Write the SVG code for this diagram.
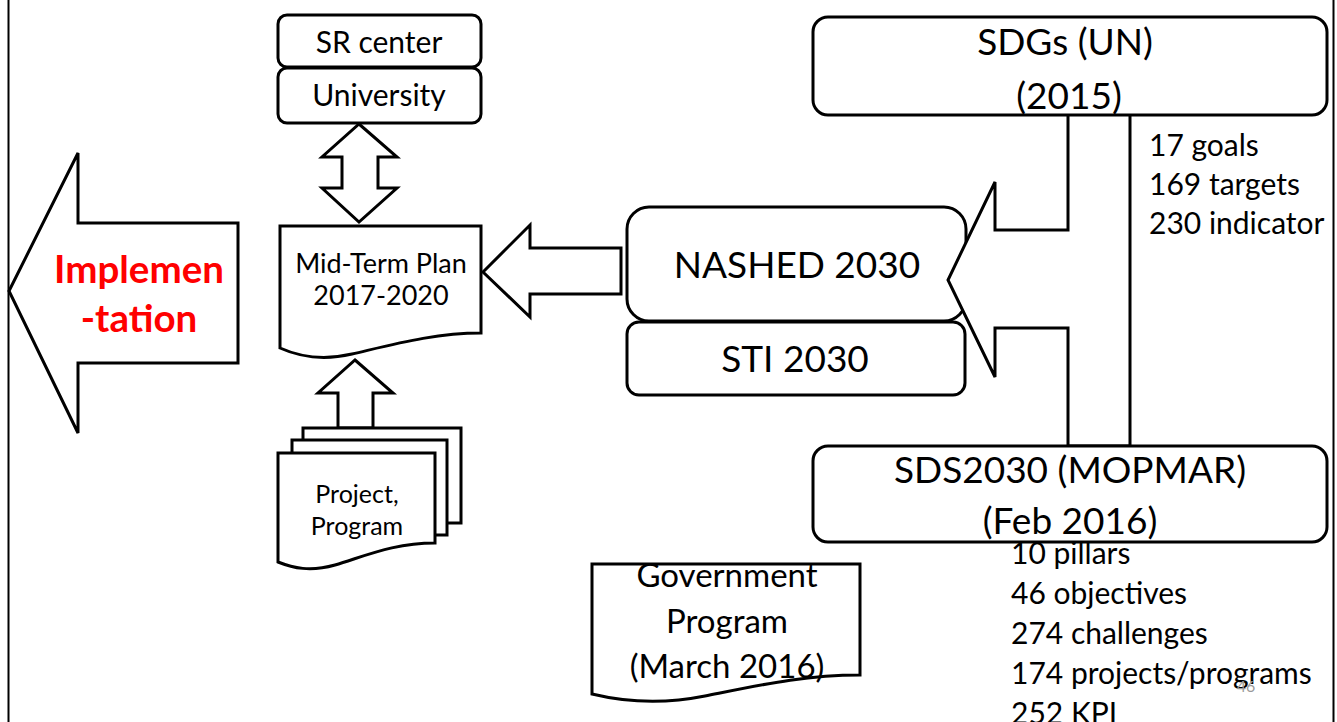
<svg xmlns="http://www.w3.org/2000/svg" width="1337" height="722" viewBox="0 0 1337 722">
<style>
  .s { fill: #fff; stroke: #000; stroke-width: 3; stroke-linejoin: miter; }
  .b { fill: none; stroke: #000; stroke-width: 2; }
  text { font-family: Lato, "Liberation Sans", sans-serif; fill: #000; text-anchor: middle; }
  .big { font-size: 37px; }
  .lst { font-size: 30px; text-anchor: start; }
  .imp { font-size: 38.5px; font-weight: bold; fill: #FF0000; }
</style>
<rect x="0" y="0" width="1337" height="722" fill="#fff"/>
<line class="b" x1="8.5" y1="0" x2="8.5" y2="722"/>
<line class="b" x1="1333.5" y1="0" x2="1333.5" y2="722"/>

<g id="connectors">
  <path class="s" d="M359,124 L397,157 H378 V188 H397 L359,222 L322,188 H342 V157 H322 Z"/>
  <path class="s" d="M355,360 L393,393 H373 V428 H338 V393 H318 Z"/>
  <path class="s" d="M483,272 L530,225 V248 H621 V294 H530 V317 Z"/>
</g>

<g id="implementation">
  <path class="s" d="M9,291 L78,153 V223 H238 V363 H78 V433 Z"/>
  <text class="imp" x="139" y="283">Implemen</text>
  <text class="imp" x="139" y="332">-tation</text>
</g>

<g id="sr-center">
  <rect class="s" x="278" y="15" width="203" height="52" rx="9"/>
  <text x="379" y="53" style="font-size:30px">SR center</text>
</g>
<g id="university">
  <rect class="s" x="278" y="68" width="203" height="55" rx="9"/>
  <text x="379" y="106" style="font-size:30px">University</text>
</g>

<g id="mid-term-plan">
  <path class="s" d="M280,226 H481 V333 C435,333 395,344 352,354 C322,361 300,357 280,348 Z"/>
  <text x="381" y="273" style="font-size:27px">Mid-Term Plan</text>
  <text x="381" y="305" style="font-size:27px">2017-2020</text>
</g>

<g id="project-program">
  <rect class="s" x="303" y="428" width="158" height="95"/>
  <rect class="s" x="292" y="440" width="155" height="95"/>
  <path class="s" d="M278,453 H435 V543 C395,543 368,555 335,565 C310,572 293,568 278,562 Z"/>
  <text x="357" y="503" style="font-size:25px">Project,</text>
  <text x="357" y="535" style="font-size:25px">Program</text>
</g>

<g id="nashed">
  <rect class="s" x="627" y="207" width="339" height="114" rx="22"/>
  <text class="big" x="797" y="278">NASHED 2030</text>
</g>
<g id="sti">
  <rect class="s" x="627" y="322" width="338" height="73" rx="12"/>
  <text class="big" x="795" y="372">STI 2030</text>
</g>

<g id="sdg-arrow">
  <path class="s" d="M1068,113 V230 H995 V182 L948,280 L995,377 V328 H1068 V446 H1130 V113 Z"/>
</g>

<g id="sdgs">
  <rect class="s" x="813" y="17" width="514" height="98" rx="15"/>
  <text class="big" x="1065" y="55">SDGs (UN)</text>
  <text class="big" x="1069" y="109">(2015)</text>
</g>
<g id="sdg-list">
  <text class="lst" x="1149" y="156">17 goals</text>
  <text class="lst" x="1149" y="195">169 targets</text>
  <text class="lst" x="1149" y="234">230 indicator</text>
</g>

<g id="sds2030">
  <rect class="s" x="813" y="446" width="514" height="96" rx="15"/>
  <text class="big" x="1070" y="483">SDS2030 (MOPMAR)</text>
  <text class="big" x="1070" y="534">(Feb 2016)</text>
</g>
<g id="sds-list">
  <text class="lst" x="1011" y="564">10 pillars</text>
  <text class="lst" x="1011" y="604">46 objectives</text>
  <text class="lst" x="1011" y="644">274 challenges</text>
  <text class="lst" x="1011" y="684">174 projects/programs</text>
  <text class="lst" x="1011" y="724">252 KPI</text>
</g>

<g id="government-program">
  <path class="s" d="M592,564 H860 V675 C805,675 765,684 705,696 C665,704 625,702 592,694 Z"/>
  <text x="727" y="587" style="font-size:33px">Government</text>
  <text x="727" y="633" style="font-size:33px">Program</text>
  <text x="727" y="678" style="font-size:33px">(March 2016)</text>
</g>

<text x="1246" y="692" style="font-size:16px;fill:#999">46</text>
</svg>
